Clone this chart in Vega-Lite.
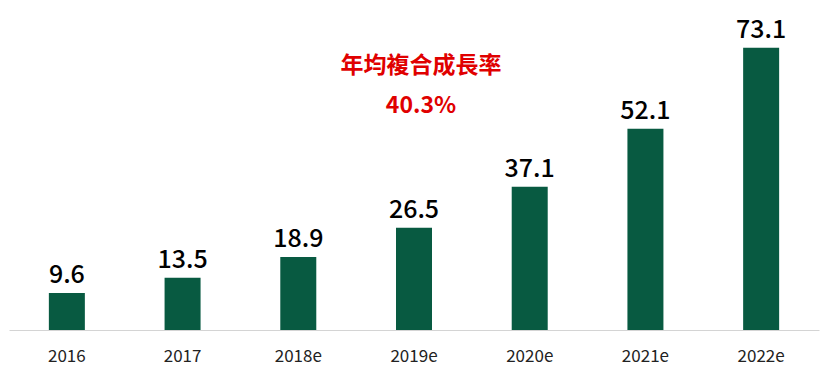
{
  "$schema": "https://vega.github.io/schema/vega-lite/v6.json",
  "width": 810,
  "height": 309,
  "autosize": "none",
  "padding": {"left": 9, "top": 21, "right": 13, "bottom": 44},
  "background": "white",
  "config": {"view": {"stroke": null}, "font": "Noto Sans CJK TC"},
  "datasets": {
    "bars": [
      {"year": "2016", "value": 9.6},
      {"year": "2017", "value": 13.5},
      {"year": "2018e", "value": 18.9},
      {"year": "2019e", "value": 26.5},
      {"year": "2020e", "value": 37.1},
      {"year": "2021e", "value": 52.1},
      {"year": "2022e", "value": 73.1}
    ],
    "notes": [
      {"year": "2019e", "value": 68.4, "label": "年均複合成長率"},
      {"year": "2019e", "value": 58.0, "label": "40.3%"}
    ]
  },
  "layer": [
    {
      "data": {"name": "bars"},
      "mark": {"type": "bar", "color": "#085A41", "width": 36},
      "encoding": {
        "x": {
          "field": "year", "type": "nominal", "sort": null,
          "scale": {"paddingInner": 0.69, "paddingOuter": 0.345},
          "axis": {
            "title": null, "ticks": false, "domainColor": "#d4d4d4", "domainWidth": 1,
            "labelFontSize": 17, "labelColor": "#222222", "labelPadding": 18,
            "labelAngle": 0, "labelFont": "Noto Sans CJK TC"
          }
        },
        "y": {
          "field": "value", "type": "quantitative",
          "scale": {"domain": [0, 80]},
          "axis": null
        }
      }
    },
    {
      "data": {"name": "bars"},
      "mark": {"type": "text", "baseline": "alphabetic", "dy": -10, "fontSize": 25, "color": "#000000", "fontWeight": 500},
      "encoding": {
        "x": {"field": "year", "type": "nominal", "sort": null},
        "y": {"field": "value", "type": "quantitative"},
        "text": {"field": "value", "type": "quantitative", "format": ".1f"}
      }
    },
    {
      "data": {"name": "notes"},
      "mark": {"type": "text", "baseline": "middle", "dx": 7, "fontSize": 23, "fontWeight": "bold", "color": "#E00000"},
      "encoding": {
        "x": {"field": "year", "type": "nominal", "sort": null},
        "y": {"field": "value", "type": "quantitative"},
        "text": {"field": "label", "type": "nominal"}
      }
    }
  ]
}
